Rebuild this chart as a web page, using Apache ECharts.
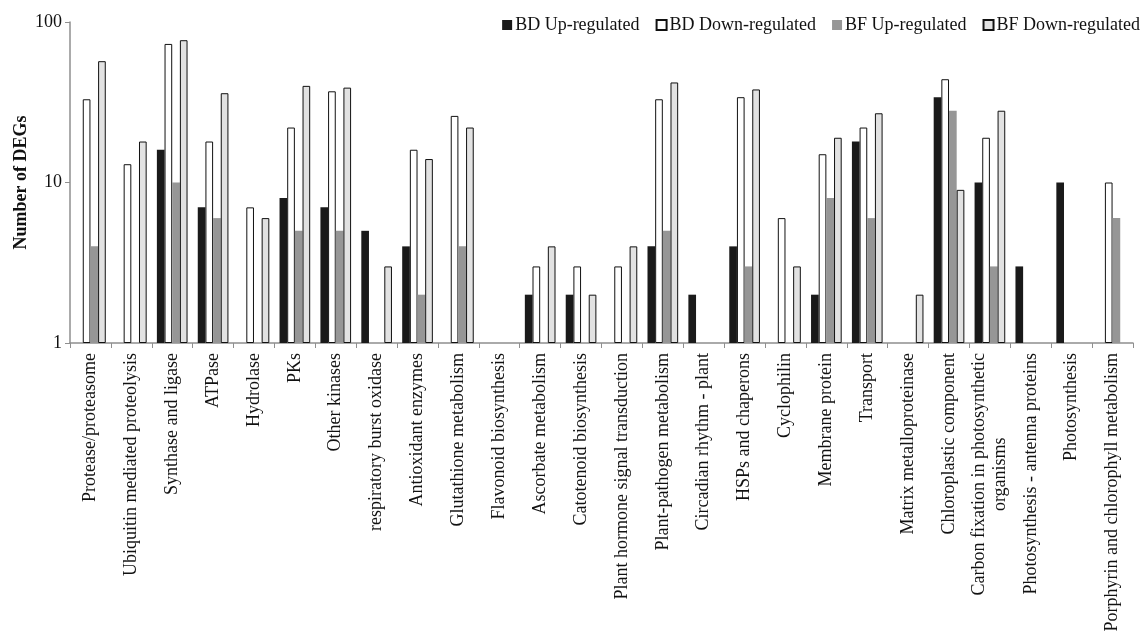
<!DOCTYPE html>
<html>
<head>
<meta charset="utf-8">
<script src="https://cdn.jsdelivr.net/npm/echarts@6/dist/echarts.min.js"></script>
<style>
html,body{margin:0;padding:0;background:#fff;}
#main{width:1145px;height:632px;}
</style>
</head>
<body>
<div id="main"></div>
<script>
const categories = [
  'Protease/proteasome','Ubiquitin mediated proteolysis','Synthase and ligase','ATPase','Hydrolase',
  'PKs','Other kinases','respiratory burst oxidase','Antioxidant enzymes','Glutathione metabolism',
  'Flavonoid biosynthesis','Ascorbate metabolism','Catotenoid biosynthesis','Plant hormone signal transduction',
  'Plant-pathogen metabolism','Circadian rhythm - plant','HSPs and chaperons','Cyclophilin','Membrane protein',
  'Transport','Matrix metalloproteinase','Chloroplastic component','Carbon fixation in photosynthetic\norganisms',
  'Photosynthesis - antenna proteins','Photosynthesis','Porphyrin and chlorophyll metabolism'
];
const bdUp   = [null,null,16,7,null,8,7,5,4,null,null,2,2,null,4,2,4,null,2,18,null,34,10,3,10,null];
const bdDown = [33,13,73,18,7,22,37,null,16,26,null,3,3,3,33,null,34,6,15,22,null,44,19,null,null,10];
const bfUp   = [4,null,10,6,null,5,5,null,2,4,null,null,null,null,5,null,3,null,8,6,null,28,3,null,null,6];
const bfDown = [57,18,77,36,6,40,39,3,14,22,null,4,2,4,42,null,38,3,19,27,2,9,28,null,null,null];
const yTicks = [1, 10, 100];

const FONT = '"Liberation Serif", "Times New Roman", serif';
const chart = echarts.init(document.getElementById('main'));
const border = {borderColor: '#111', borderWidth: 1};
chart.setOption({
  animation: false,
  backgroundColor: '#fff',
  textStyle: {fontFamily: FONT, color: '#111'},
  legend: {
    top: 11, right: 0, itemWidth: 10, itemHeight: 10, itemGap: 16, icon: 'rect',
    textStyle: {fontFamily: FONT, fontSize: 18, color: '#111', padding: [0, 0, 0, -2]},
    data: ['BD Up-regulated','BD Down-regulated','BF Up-regulated','BF Down-regulated']
  },
  grid: {left: 70, right: 12, top: 22, bottom: 289, containLabel: false, outerBoundsMode: 'none'},
  xAxis: {
    type: 'category', data: categories,
    axisLine: {lineStyle: {color: '#8f8f8f', width: 1.5}},
    axisTick: {show: true, length: 5, lineStyle: {color: '#8f8f8f'}},
    axisLabel: {
      interval: 0, rotate: 90, margin: 10, color: '#111', fontFamily: FONT, fontSize: 18,
      formatter: v => v.split('\n').map(s => '{c|' + s + '}').join('\n'),
      rich: {c: {align: 'center', fontFamily: FONT, fontSize: 18, lineHeight: 21, color: '#111'}}
    }
  },
  yAxis: {
    type: 'log', logBase: 10, min: yTicks[0], max: yTicks[yTicks.length - 1],
    name: 'Number of DEGs', nameLocation: 'middle', nameRotate: 90, nameGap: 40,
    nameMoveOverlap: false,
    nameTextStyle: {fontFamily: FONT, fontSize: 18, fontWeight: 'bold', color: '#111'},
    axisLine: {show: true, lineStyle: {color: '#8f8f8f', width: 1.5}},
    axisTick: {show: true, length: 5, lineStyle: {color: '#8f8f8f'}},
    axisLabel: {fontFamily: FONT, fontSize: 18, color: '#111', margin: 8},
    splitLine: {show: false}, minorTick: {show: false}
  },
  series: [
    {name: 'BD Up-regulated', type: 'bar', data: bdUp, barGap: '0%', barCategoryGap: '25%',
     itemStyle: {color: '#1a1a1a'}},
    {name: 'BD Down-regulated', type: 'bar', data: bdDown, barGap: '0%', barCategoryGap: '25%',
     itemStyle: Object.assign({color: '#ffffff'}, border)},
    {name: 'BF Up-regulated', type: 'bar', data: bfUp, barGap: '0%', barCategoryGap: '25%',
     itemStyle: {color: '#969696'}},
    {name: 'BF Down-regulated', type: 'bar', data: bfDown, barGap: '0%', barCategoryGap: '25%',
     itemStyle: Object.assign({color: '#e2e2e2'}, border)}
  ]
});
</script>
</body>
</html>
